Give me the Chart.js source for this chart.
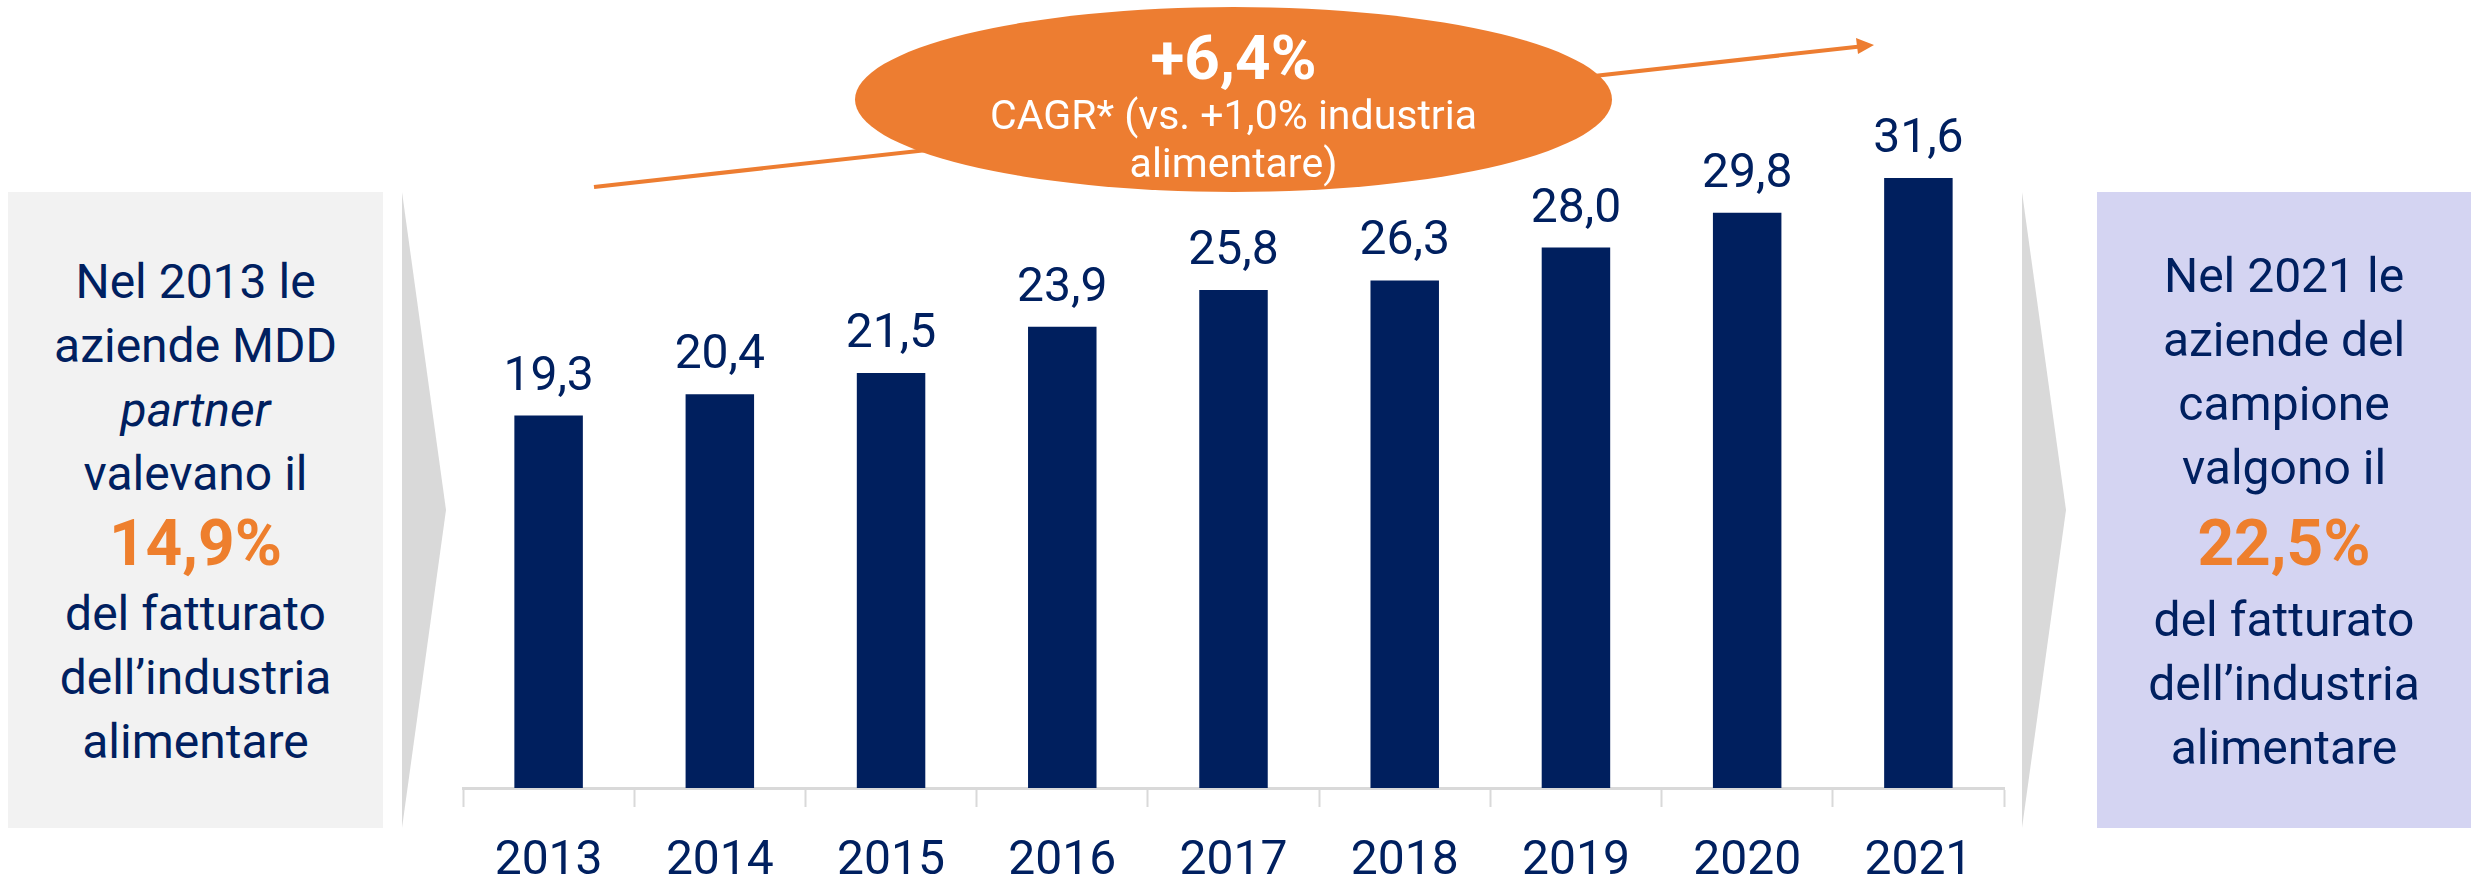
<!DOCTYPE html>
<html>
<head>
<meta charset="utf-8">
<script src="https://cdn.jsdelivr.net/npm/chart.js@4"></script>
<style>
  body { margin: 0; background: #fff; }
  #wrap { position: relative; width: 2471px; height: 879px; overflow: hidden; font-family: Roboto, sans-serif; color: #002060; }
  #chart { position: absolute; left: 0; top: 0; }
  .panel { position: absolute; top: 192px; height: 636px; }
  .panel .txt { position: absolute; left: 0; right: 0; text-align: center; font-size: 48px; }
  .panel .txt div { line-height: 64px; white-space: nowrap; }
  .panel .txt .big { font-size: 64px; font-weight: 700; color: #EE7F2D; }
  .chev { position: absolute; top: 192px; height: 636px; width: 44px; background: #d9d9d9; clip-path: polygon(0 0, 100% 50%, 0 100%); }
  #arrow { position: absolute; left: 0; top: 0; }
  #bubble { position: absolute; left: 855px; top: 7px; width: 757px; height: 185px; border-radius: 50%; background: #ED7D31; color: #fff; text-align: center; }
  #bubble div { position: absolute; left: 0; right: 0; white-space: nowrap; }
</style>
</head>
<body>
<div id="wrap">
  <div class="panel" style="left:8px; width:375px; background:#f2f2f2;">
    <div class="txt" style="top:58px;">
      <div>Nel 2013 le</div>
      <div>aziende MDD</div>
      <div><i>partner</i></div>
      <div>valevano il</div>
      <div class="big" style="line-height:76px;">14,9%</div>
      <div>del fatturato</div>
      <div>dell’industria</div>
      <div>alimentare</div>
    </div>
  </div>
  <div class="chev" style="left:402px;"></div>

  <canvas id="chart" width="2471" height="879"></canvas>

  <svg id="arrow" width="2471" height="879">
    <line x1="594" y1="187" x2="1860" y2="46.5" stroke="#ED7D31" stroke-width="4"/>
    <polygon points="1874,45 1856,38 1858,54" fill="#ED7D31"/>
  </svg>
  <div id="bubble">
    <div style="top:16px; font-size:62px; font-weight:700; line-height:70px;">+6,4%</div>
    <div style="top:84px; font-size:41px; line-height:48px;">CAGR* (vs. +1,0% industria</div>
    <div style="top:132px; font-size:41px; line-height:48px;">alimentare)</div>
  </div>

  <div class="chev" style="left:2022px;"></div>
  <div class="panel" style="left:2097px; width:374px; background:#d4d4f2;">
    <div class="txt" style="top:52px;">
      <div>Nel 2021 le</div>
      <div>aziende del</div>
      <div>campione</div>
      <div>valgono il</div>
      <div class="big" style="line-height:88px;">22,5%</div>
      <div>del fatturato</div>
      <div>dell’industria</div>
      <div>alimentare</div>
    </div>
  </div>
</div>

<script>
const years = ['2013', '2014', '2015', '2016', '2017', '2018', '2019', '2020', '2021'];
const fatturato = [19.3, 20.4, 21.5, 23.9, 25.8, 26.3, 28.0, 29.8, 31.6];

const navy = '#002060';

// value labels above each bar
const barLabels = {
  id: 'barLabels',
  afterDatasetsDraw(chart) {
    const ctx = chart.ctx;
    const meta = chart.getDatasetMeta(0);
    ctx.save();
    ctx.font = '48px Roboto';
    ctx.fillStyle = navy;
    ctx.textAlign = 'center';
    ctx.textBaseline = 'alphabetic';
    meta.data.forEach((bar, i) => {
      const txt = fatturato[i].toFixed(1).replace('.', ',');
      ctx.fillText(txt, bar.x, bar.y - 26);
    });
    ctx.restore();
  }
};

const chart = new Chart(document.getElementById('chart').getContext('2d'), {
  type: 'bar',
  data: {
    labels: years,
    datasets: [{
      data: fatturato,
      backgroundColor: '#001F5E',
      barPercentage: 0.4,
      categoryPercentage: 1
    }]
  },
  options: {
    responsive: false,
    animation: false,
    devicePixelRatio: 1,
    layout: { padding: { top: 16, left: 463, right: 467, bottom: 0 } },
    plugins: { legend: { display: false }, tooltip: { enabled: false } },
    scales: {
      x: {
        afterFit: (scale) => { scale.height = 91; },
        grid: {
          display: true,
          drawOnChartArea: false,
          drawTicks: true,
          tickLength: 19,
          tickColor: '#d9d9d9',
          tickWidth: 2,
          offset: true
        },
        border: { display: true, color: '#d9d9d9', width: 3 },
        ticks: {
          color: navy,
          font: { family: 'Roboto', size: 48 },
          padding: 26,
          maxRotation: 0
        }
      },
      y: {
        display: false,
        min: 0,
        max: 40
      }
    }
  },
  plugins: [barLabels]
});
</script>
</body>
</html>
